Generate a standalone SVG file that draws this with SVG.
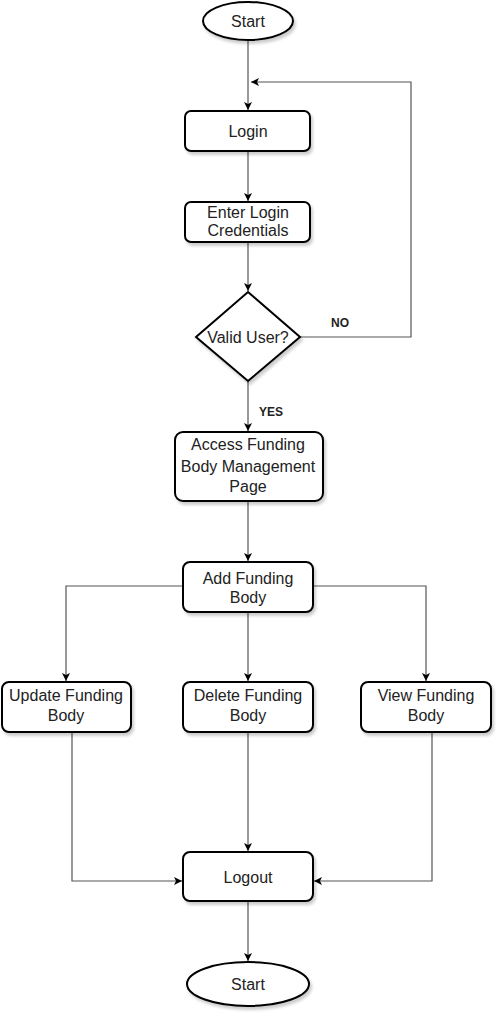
<svg xmlns="http://www.w3.org/2000/svg" width="503" height="1018" viewBox="0 0 503 1018">
<style>
.n{fill:#fff;stroke:#000;stroke-width:2;filter:url(#sh)}
.t{font-family:"Liberation Sans",Arial,sans-serif;font-size:16px;fill:#222;text-anchor:middle}
.b{font-family:"Liberation Sans",Arial,sans-serif;font-size:12px;font-weight:bold;fill:#222}
.c{fill:none;stroke:#555;stroke-width:1.2}
</style>
<defs>
<filter id="sh" x="-20%" y="-20%" width="150%" height="150%">
<feGaussianBlur in="SourceAlpha" stdDeviation="1.5"/>
<feOffset dx="2" dy="3" result="o"/>
<feComponentTransfer><feFuncA type="linear" slope="0.2"/></feComponentTransfer>
<feMerge><feMergeNode/><feMergeNode in="SourceGraphic"/></feMerge>
</filter>
<marker id="a" markerWidth="10" markerHeight="10" refX="9" refY="5" orient="auto" markerUnits="userSpaceOnUse">
<path d="M1,1 L9,5 L1,9 L3,5 Z" fill="#000"/>
</marker>
</defs>
<g id="connectors">
<path class="c" d="M248,41 V110" marker-end="url(#a)"/>
<path class="c" d="M248,151 V201" marker-end="url(#a)"/>
<path class="c" d="M248,242 V291" marker-end="url(#a)"/>
<path class="c" d="M300,337 H411 V82 H251" marker-end="url(#a)"/>
<path class="c" d="M248,381 V431" marker-end="url(#a)"/>
<path class="c" d="M248,501 V561" marker-end="url(#a)"/>
<path class="c" d="M183,586 H66 V681" marker-end="url(#a)"/>
<path class="c" d="M248,612 V681" marker-end="url(#a)"/>
<path class="c" d="M313,586 H426 V681" marker-end="url(#a)"/>
<path class="c" d="M72,732 V881 H182" marker-end="url(#a)"/>
<path class="c" d="M248,732 V851" marker-end="url(#a)"/>
<path class="c" d="M432,732 V881 H314" marker-end="url(#a)"/>
<path class="c" d="M248,901 V961" marker-end="url(#a)"/>
<text class="b" x="331" y="327">NO</text>
<text class="b" x="259" y="416">YES</text>
</g>
<g id="start"><ellipse class="n" cx="248" cy="21" rx="45" ry="19"/><text class="t" x="248" y="27">Start</text></g>
<g id="login"><rect class="n" x="185" y="111" width="125" height="40" rx="6"/><text class="t" x="248" y="137">Login</text></g>
<g id="enter"><rect class="n" x="185" y="202" width="125" height="40" rx="6"/><text class="t" x="248" y="218">Enter Login</text><text class="t" x="248" y="236">Credentials</text></g>
<g id="valid"><path class="n" d="M248,292 L300,337 L248,381 L196,337 Z"/><text class="t" x="248" y="343">Valid User?</text></g>
<g id="access"><rect class="n" x="175" y="432" width="148" height="69" rx="8"/><text class="t" x="248" y="450">Access Funding</text><text class="t" x="248" y="472">Body Management</text><text class="t" x="248" y="492">Page</text></g>
<g id="add"><rect class="n" x="183" y="562" width="130" height="50" rx="7"/><text class="t" x="248" y="584">Add Funding</text><text class="t" x="248" y="603">Body</text></g>
<g id="update"><rect class="n" x="2" y="682" width="129" height="50" rx="7"/><text class="t" x="66" y="701">Update Funding</text><text class="t" x="66" y="721">Body</text></g>
<g id="delete"><rect class="n" x="183" y="682" width="130" height="50" rx="7"/><text class="t" x="248" y="701">Delete Funding</text><text class="t" x="248" y="721">Body</text></g>
<g id="view"><rect class="n" x="361" y="682" width="130" height="50" rx="7"/><text class="t" x="426" y="701">View Funding</text><text class="t" x="426" y="721">Body</text></g>
<g id="logout"><rect class="n" x="183" y="852" width="130" height="49" rx="7"/><text class="t" x="248" y="883">Logout</text></g>
<g id="end"><ellipse class="n" cx="248" cy="984" rx="61" ry="22"/><text class="t" x="248" y="990">Start</text></g>
</svg>
